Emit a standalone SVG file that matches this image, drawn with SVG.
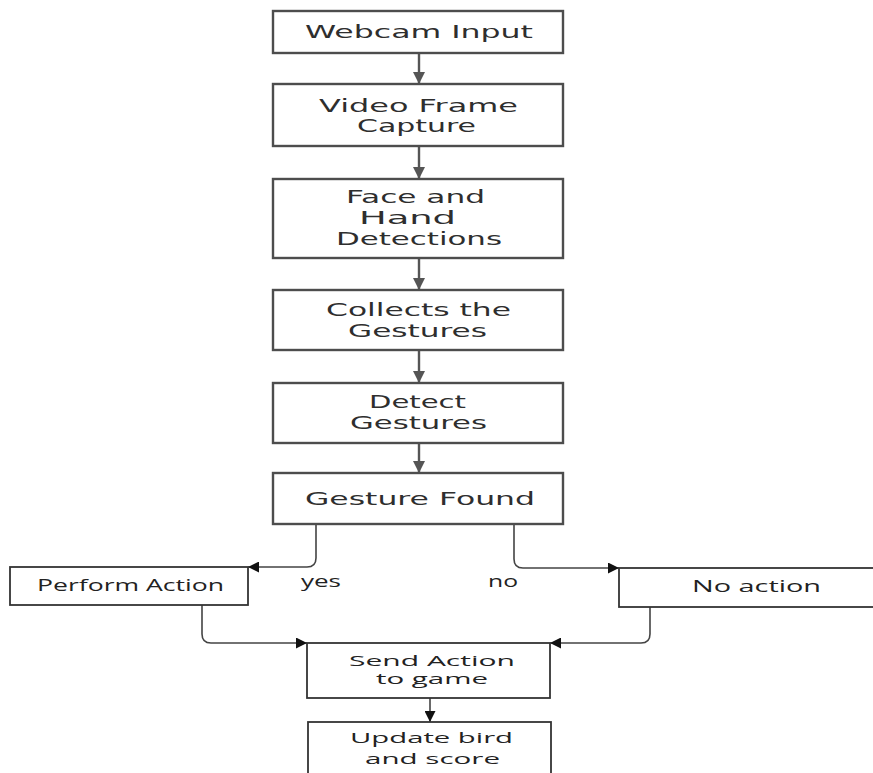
<svg xmlns="http://www.w3.org/2000/svg" width="873" height="773" viewBox="0 0 873 773">
<defs>
<style>
.tb{fill:#fff;stroke:#4d4d4d;stroke-width:2.4}
.bb{fill:#fff;stroke:#333;stroke-width:1.8}
.tt{font-family:"DejaVu Sans",sans-serif;font-size:17px;fill:#2e2e2e}
.ts{font-family:"DejaVu Sans",sans-serif;font-size:18px;fill:#2e2e2e}
.bt{font-family:"Open Sans","DejaVu Sans",sans-serif;font-size:17px;fill:#222}
.bs{font-family:"Open Sans","DejaVu Sans",sans-serif;font-size:15px;fill:#222}
.gl{fill:none;stroke:#555;stroke-width:2.4}
.bl{fill:none;stroke:#444;stroke-width:1.6}
</style>
<marker id="ag" viewBox="0 0 10 10" refX="10" refY="5" orient="auto" markerUnits="userSpaceOnUse" markerWidth="12" markerHeight="18"><path d="M0,0 L10,5 L0,10 z" fill="#555"/></marker>
<marker id="ab" viewBox="0 0 10 10" refX="10" refY="5" orient="auto" markerUnits="userSpaceOnUse" markerWidth="13" markerHeight="11"><path d="M0,0 L10,5 L0,10 z" fill="#111"/></marker>
</defs>
<rect width="873" height="773" fill="#fff"/>
<g id="connectors">
<path class="gl" d="M419,53 V84" marker-end="url(#ag)"/>
<path class="gl" d="M419,146 V179" marker-end="url(#ag)"/>
<path class="gl" d="M419,258 V290" marker-end="url(#ag)"/>
<path class="gl" d="M419,350 V383" marker-end="url(#ag)"/>
<path class="gl" d="M419,443 V473" marker-end="url(#ag)"/>
<path class="bl" d="M316,524 V558 Q316,567 307,567 H248" marker-end="url(#ab)"/>
<path class="bl" d="M514,524 V559 Q514,568 523,568 H619" marker-end="url(#ab)"/>
<path class="bl" d="M202,605 V634 Q202,643 211,643 H307" marker-end="url(#ab)"/>
<path class="bl" d="M650,607 V634 Q650,643 641,643 H550" marker-end="url(#ab)"/>
<path class="bl" d="M430,698 V722" marker-end="url(#ab)"/>
<text class="bt" x="301" y="587" textLength="40" lengthAdjust="spacingAndGlyphs">yes</text>
<text class="bt" x="488" y="587" textLength="30" lengthAdjust="spacingAndGlyphs">no</text>
</g>
<g id="webcam-input">
<rect class="tb" x="273" y="11" width="290" height="42"/>
<text class="ts" x="305" y="38" textLength="228" lengthAdjust="spacingAndGlyphs">Webcam Input</text>
</g>
<g id="video-frame-capture">
<rect class="tb" x="273" y="84" width="290" height="62"/>
<text class="tt" x="319" y="112" textLength="199" lengthAdjust="spacingAndGlyphs">Video Frame</text>
<text class="tt" x="357" y="132" textLength="119" lengthAdjust="spacingAndGlyphs">Capture</text>
</g>
<g id="face-hand-detections">
<rect class="tb" x="273" y="179" width="290" height="79"/>
<text class="tt" x="346" y="203" textLength="139" lengthAdjust="spacingAndGlyphs">Face and</text>
<text class="tt" x="359" y="224" textLength="97" lengthAdjust="spacingAndGlyphs">Hand</text>
<text class="tt" x="336" y="245" textLength="166" lengthAdjust="spacingAndGlyphs">Detections</text>
</g>
<g id="collects-gestures">
<rect class="tb" x="273" y="290" width="290" height="60"/>
<text class="tt" x="326" y="316" textLength="185" lengthAdjust="spacingAndGlyphs">Collects the</text>
<text class="tt" x="348" y="337" textLength="139" lengthAdjust="spacingAndGlyphs">Gestures</text>
</g>
<g id="detect-gestures">
<rect class="tb" x="273" y="383" width="290" height="60"/>
<text class="tt" x="369" y="408" textLength="97" lengthAdjust="spacingAndGlyphs">Detect</text>
<text class="tt" x="350" y="429" textLength="137" lengthAdjust="spacingAndGlyphs">Gestures</text>
</g>
<g id="gesture-found">
<rect class="tb" x="273" y="473" width="290" height="51"/>
<text class="ts" x="305" y="505" textLength="230" lengthAdjust="spacingAndGlyphs">Gesture Found</text>
</g>
<g id="perform-action">
<rect class="bb" x="10" y="567" width="238" height="38"/>
<text class="bt" x="37" y="591" textLength="187" lengthAdjust="spacingAndGlyphs">Perform Action</text>
</g>
<g id="no-action">
<rect class="bb" x="619" y="568" width="270" height="39"/>
<text class="bt" x="692" y="592" textLength="129" lengthAdjust="spacingAndGlyphs">No action</text>
</g>
<g id="send-action">
<rect class="bb" x="307" y="643" width="243" height="55"/>
<text class="bs" x="349" y="666" textLength="166" lengthAdjust="spacingAndGlyphs">Send Action</text>
<text class="bs" x="376" y="684" textLength="112" lengthAdjust="spacingAndGlyphs">to game</text>
</g>
<g id="update-bird-score">
<rect class="bb" x="308" y="722" width="243" height="55"/>
<text class="bs" x="350" y="743" textLength="163" lengthAdjust="spacingAndGlyphs">Update bird</text>
<text class="bs" x="365" y="764" textLength="135" lengthAdjust="spacingAndGlyphs">and score</text>
</g>
</svg>
